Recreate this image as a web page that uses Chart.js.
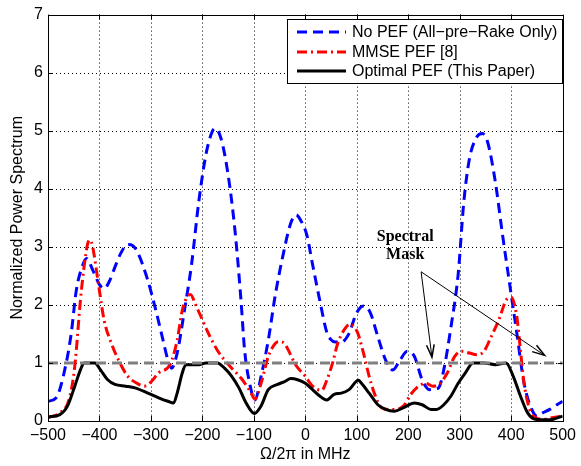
<!DOCTYPE html>
<html>
<head>
<meta charset="utf-8">
<script src="https://cdn.jsdelivr.net/npm/chart.js@4.4.1/dist/chart.umd.min.js"></script>
<style>
html,body{margin:0;padding:0;background:#fff;}
#wrap{width:581px;height:466px;}
</style>
</head>
<body>
<div id="wrap"><canvas id="c" width="581" height="466"></canvas></div>
<script>
// ---- data ----
const xTicks = [-500,-400,-300,-200,-100,0,100,200,300,400,500];
const yTicks = [0,1,2,3,4,5,6,7];

const noPefX = [-500,-484,-466,-455,-445,-434,-425,-413,-400,-391,-380,-370,-358,-345,-335,-324,-306,-292,-278,-267,-260,-249,-235,-221,-207,-192,-180,-175,-164,-150,-136,-125,-118,-107,-98,-86,-72,-58,-43,-29,-18,-8,3,14,28,42,50,58,70,85,99,113,118,127,141,156,170,184,198,212,227,241,252,259,269,283,297,308,319,333,344,354,369,383,397,411,425,440,450,461,475,489,500];
const noPefY = [0.34,0.40,0.94,1.50,2.25,2.65,2.80,2.60,2.35,2.28,2.42,2.65,2.90,3.04,3.02,2.87,2.42,1.96,1.45,1.05,0.91,1.17,1.90,2.70,3.78,4.64,5.00,5.04,4.87,4.24,3.22,2.08,1.22,0.60,0.36,0.77,1.39,2.19,2.87,3.39,3.55,3.44,3.20,2.70,2.08,1.52,1.40,1.36,1.36,1.51,1.85,1.98,1.97,1.85,1.45,1.05,0.88,1.05,1.20,1.11,0.71,0.54,0.55,0.57,0.88,1.62,2.53,3.78,4.52,4.89,4.95,4.81,4.13,3.22,2.36,1.51,0.65,0.20,0.085,0.14,0.20,0.28,0.34];

const mmseX = [-500,-477,-459,-448,-437,-430,-423,-418,-413,-402,-391,-377,-363,-345,-327,-313,-299,-285,-263,-249,-239,-228,-223,-214,-200,-185,-171,-157,-143,-125,-107,-98,-86,-72,-58,-50,-40,-33,-19,0,14,32,42,53,63,77,87,95,102,113,124,134,148,163,177,191,205,220,234,248,262,276,290,304,319,333,347,361,376,390,400,411,418,425,436,447,461,482,500];
const mmseY = [0.06,0.14,0.37,0.94,2.08,2.65,3.05,3.12,2.99,2.36,1.74,1.34,1.05,0.77,0.65,0.60,0.68,0.83,0.97,1.39,1.91,2.16,2.18,2.02,1.74,1.45,1.22,1.05,0.91,0.74,0.51,0.38,0.65,1.11,1.34,1.37,1.33,1.22,0.97,0.77,0.60,0.53,0.71,1.00,1.34,1.59,1.67,1.62,1.51,1.17,0.77,0.48,0.23,0.20,0.20,0.26,0.46,0.60,0.65,0.60,0.65,0.83,1.11,1.20,1.17,1.14,1.20,1.45,1.74,2.08,2.13,1.79,1.22,0.65,0.20,0.06,0.03,0.06,0.085];

const optX = [-500,-477,-462,-448,-437,-430,-420,-409,-398,-384,-370,-349,-331,-306,-285,-267,-256,-249,-239,-232,-221,-207,-193,-171,-157,-143,-129,-115,-99,-86,-72,-54,-40,-28,-15,0,14,28,42,56,70,85,103,109,124,141,156,173,191,212,227,244,255,269,283,297,311,326,347,369,390,404,418,432,447,468,482,500];
const optY = [0.07,0.11,0.26,0.60,0.88,1.00,1.00,1.00,0.88,0.71,0.63,0.60,0.57,0.48,0.40,0.34,0.31,0.48,0.83,0.97,0.97,0.97,1.00,1.00,0.91,0.77,0.57,0.31,0.13,0.26,0.54,0.63,0.68,0.73,0.71,0.65,0.54,0.43,0.36,0.46,0.48,0.54,0.70,0.65,0.48,0.28,0.20,0.17,0.23,0.31,0.28,0.20,0.20,0.28,0.43,0.65,0.83,1.00,1.00,0.97,1.00,0.77,0.43,0.14,0.03,0.02,0.03,0.085];

const maskX = [-500, 500];
const maskY = [1, 1];

const seriesNames = ['No PEF (All\u2212pre\u2212Rake Only)', 'MMSE PEF [8]', 'Optimal PEF (This Paper)'];
const annotationLines = ['Spectral', 'Mask'];
const annotationTextPos = [[194, 3.17], [194, 2.86]];
const arrowStart = [225, 2.57];
const arrowEnds = [[246, 1.10], [465, 1.13]];

const pts = (xs, ys) => xs.map((x, i) => ({x: x, y: ys[i]}));

const FONT = '"Liberation Sans", Arial, Helvetica, sans-serif';

const styles = [
  {color: '#0000ff', dash: [10, 6], width: 3},
  {color: '#ff0000', dash: [10, 4, 2, 4], width: 3},
  {color: '#000000', dash: [], width: 3}
];

const framePlugin = {
  id: 'frame',
  beforeDatasetsDraw(chart) {
    const {ctx, chartArea: a, scales: {x, y}} = chart;
    ctx.save();
    ctx.strokeStyle = '#000';
    ctx.lineWidth = 1;
    ctx.setLineDash([1, 3]);
    xTicks.forEach(v => {
      if (v === xTicks[0] || v === xTicks[xTicks.length - 1]) return;
      const px = Math.round(x.getPixelForValue(v)) + 0.5;
      ctx.beginPath(); ctx.moveTo(px, a.top); ctx.lineTo(px, a.bottom); ctx.stroke();
    });
    yTicks.forEach(v => {
      if (v === yTicks[0] || v === yTicks[yTicks.length - 1]) return;
      const py = Math.round(y.getPixelForValue(v)) + 0.5;
      ctx.beginPath(); ctx.moveTo(a.left, py); ctx.lineTo(a.right, py); ctx.stroke();
    });
    ctx.restore();
  },
  afterDatasetsDraw(chart) {
    const {ctx, chartArea: a, scales: {x, y}} = chart;
    ctx.save();
    // annotation text
    ctx.fillStyle = '#000';
    ctx.font = 'bold 16px "Liberation Serif", "Times New Roman", serif';
    ctx.textAlign = 'center';
    ctx.textBaseline = 'middle';
    annotationLines.forEach((t, i) => {
      ctx.fillText(t, x.getPixelForValue(annotationTextPos[i][0]), y.getPixelForValue(annotationTextPos[i][1]));
    });
    // arrows
    ctx.strokeStyle = '#000';
    ctx.lineWidth = 1;
    const sx = x.getPixelForValue(arrowStart[0]), sy = y.getPixelForValue(arrowStart[1]);
    arrowEnds.forEach(e => {
      const ex = x.getPixelForValue(e[0]), ey = y.getPixelForValue(e[1]);
      ctx.beginPath(); ctx.moveTo(sx, sy); ctx.lineTo(ex, ey); ctx.stroke();
      const ang = Math.atan2(ey - sy, ex - sx);
      const L = 13, spread = 0.3;
      ctx.beginPath();
      ctx.moveTo(ex - L * Math.cos(ang - spread), ey - L * Math.sin(ang - spread));
      ctx.lineTo(ex, ey);
      ctx.lineTo(ex - L * Math.cos(ang + spread), ey - L * Math.sin(ang + spread));
      ctx.lineWidth = 1.5;
      ctx.stroke();
      ctx.lineWidth = 1;
    });
    // frame
    ctx.setLineDash([]);
    ctx.lineWidth = 1;
    ctx.strokeRect(Math.round(a.left) + 0.5, Math.round(a.top) + 0.5, Math.round(a.right - a.left), Math.round(a.bottom - a.top));
    // inward ticks
    const T = 5;
    xTicks.forEach(v => {
      const px = Math.round(x.getPixelForValue(v)) + 0.5;
      ctx.beginPath();
      ctx.moveTo(px, a.bottom); ctx.lineTo(px, a.bottom - T);
      ctx.moveTo(px, a.top); ctx.lineTo(px, a.top + T);
      ctx.stroke();
    });
    yTicks.forEach(v => {
      const py = Math.round(y.getPixelForValue(v)) + 0.5;
      ctx.beginPath();
      ctx.moveTo(a.left, py); ctx.lineTo(a.left + T, py);
      ctx.moveTo(a.right, py); ctx.lineTo(a.right - T, py);
      ctx.stroke();
    });
    // legend
    const lx = 287, ly = 19, lw = 275, lh = 64;
    ctx.fillStyle = '#fff';
    ctx.fillRect(lx, ly, lw, lh);
    ctx.strokeStyle = '#000';
    ctx.lineWidth = 1;
    ctx.strokeRect(lx + 0.5, ly + 0.5, lw, lh);
    const rows = [32, 52, 71];
    seriesNames.forEach((name, i) => {
      const s = styles[i];
      ctx.strokeStyle = s.color;
      ctx.lineWidth = s.width;
      ctx.setLineDash(s.dash);
      ctx.beginPath(); ctx.moveTo(297, rows[i]); ctx.lineTo(346, rows[i]); ctx.stroke();
      ctx.setLineDash([]);
      ctx.fillStyle = '#000';
      ctx.font = '16px ' + FONT;
      ctx.textAlign = 'left';
      ctx.textBaseline = 'middle';
      ctx.fillText(name, 352, rows[i] + 1);
    });
    ctx.restore();
  }
};

const mk = (label, data, s, order) => ({
  label, data,
  borderColor: s.color, borderWidth: s.width, borderDash: s.dash,
  pointRadius: 0, fill: false, cubicInterpolationMode: 'monotone', order
});

new Chart(document.getElementById('c'), {
  type: 'line',
  data: {
    datasets: [
      {label: 'Spectral Mask', data: pts(maskX, maskY), borderColor: '#808080', borderWidth: 3, borderDash: [10, 6], pointRadius: 0, fill: false, order: 0},
      mk(seriesNames[2], pts(optX, optY), styles[2], 1),
      mk(seriesNames[1], pts(mmseX, mmseY), styles[1], 2),
      mk(seriesNames[0], pts(noPefX, noPefY), styles[0], 3)
    ]
  },
  options: {
    responsive: false,
    animation: false,
    layout: {padding: {top: 12, right: 13, left: 0, bottom: 0}},
    plugins: {legend: {display: false}, tooltip: {enabled: false}},
    scales: {
      x: {
        type: 'linear', min: -500, max: 500,
        afterBuildTicks: s => { s.ticks = xTicks.map(v => ({value: v})); },
        afterFit: s => { s.height = 45; },
        grid: {display: false, drawTicks: false},
        border: {display: false},
        ticks: {
          color: '#000', font: {family: FONT, size: 16}, padding: 5, maxRotation: 0, autoSkip: false,
          callback: v => (v < 0 ? '\u2212' + Math.abs(v) : String(v))
        },
        title: {display: true, text: '\u03A9/2\u03C0 in MHz', color: '#000', font: {family: FONT, size: 16}, padding: {top: 0, bottom: 2}}
      },
      y: {
        min: 0, max: 7,
        afterBuildTicks: s => { s.ticks = yTicks.map(v => ({value: v})); },
        afterFit: s => { s.width = 48; },
        grid: {display: false, drawTicks: false},
        border: {display: false},
        ticks: {color: '#000', font: {family: FONT, size: 16}, padding: 5, autoSkip: false},
        title: {display: true, text: 'Normalized Power Spectrum', color: '#000', font: {family: FONT, size: 16}, padding: {top: 8, bottom: 0}}
      }
    }
  },
  plugins: [framePlugin]
});
</script>
</body>
</html>
